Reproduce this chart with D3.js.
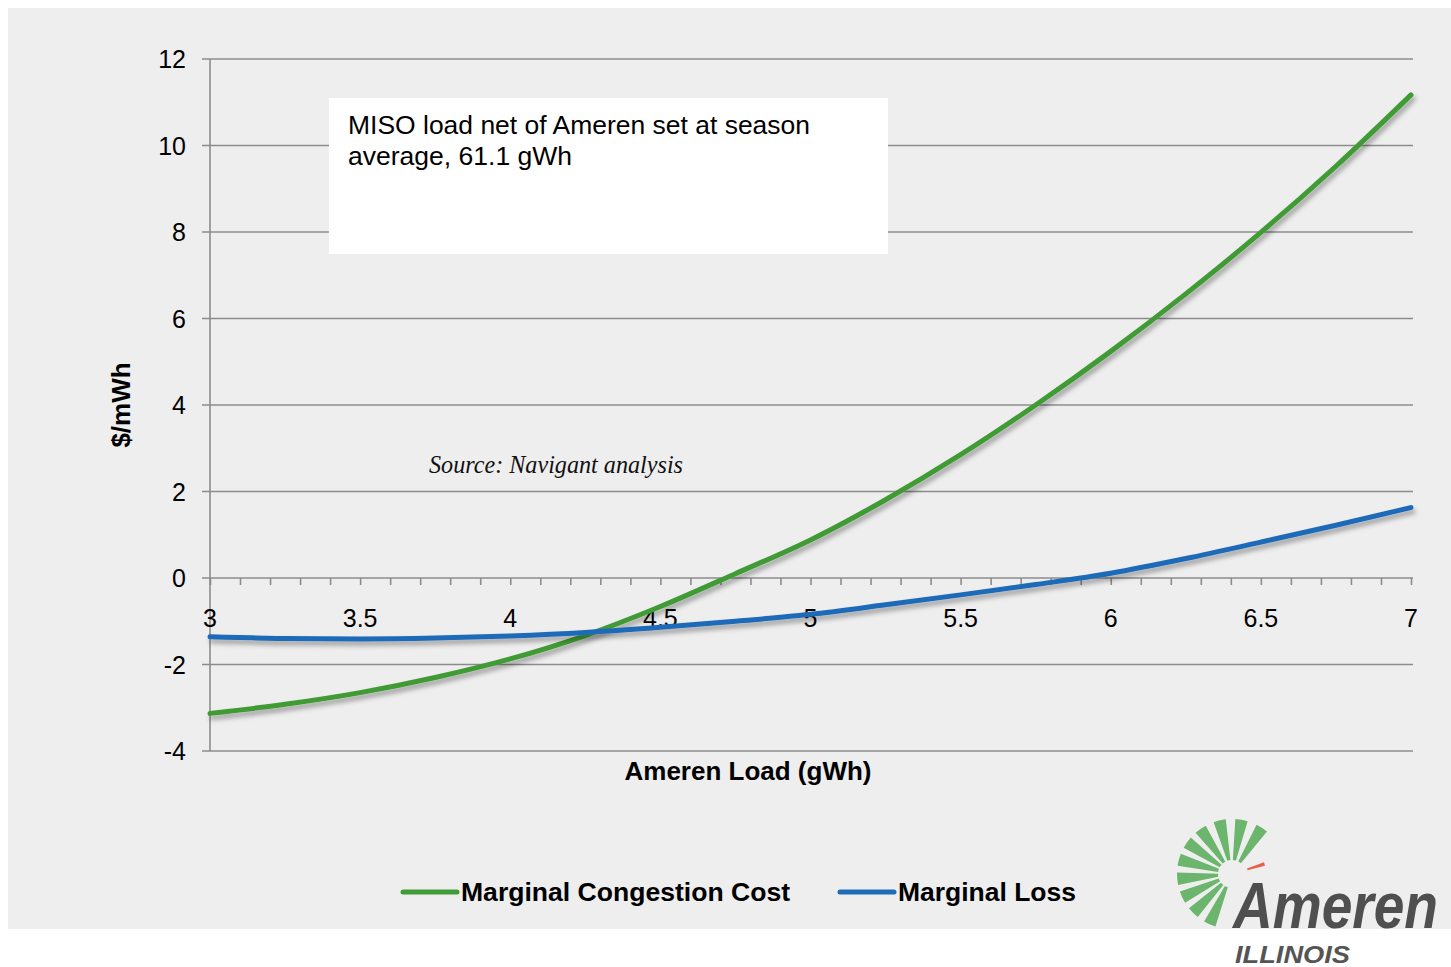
<!DOCTYPE html>
<html>
<head>
<meta charset="utf-8">
<script src="https://cdn.jsdelivr.net/npm/d3@7"></script>
<style>
  html, body { margin: 0; padding: 0; background: #ffffff; }
  svg { display: block; font-family: "Liberation Sans", Arial, sans-serif; }
</style>
</head>
<body>
<svg id="chart" width="1451" height="967"></svg>
<script>
// Ameren load (gWh) on the horizontal axis
const loadGWh = [3, 3.25, 3.5, 3.75, 4, 4.25, 4.5, 4.75, 5, 5.25, 5.5, 5.75, 6, 6.25, 6.5, 6.75, 7];
// $/mWh values for each series
const congestionCost = [-3.13, -2.92, -2.65, -2.30, -1.87, -1.33, -0.66, 0.10, 0.88, 1.81, 2.85, 4.00, 5.24, 6.57, 7.99, 9.52, 11.17];
const marginalLoss = [-1.36, -1.40, -1.41, -1.39, -1.34, -1.26, -1.14, -1.00, -0.84, -0.62, -0.39, -0.15, 0.11, 0.45, 0.83, 1.22, 1.63];
const seriesNames = ["Marginal Congestion Cost", "Marginal Loss"];
const seriesColors = ["#419b36", "#1e6bb8"];
// axis ticks and labels
const yTickValues = [-4, -2, 0, 2, 4, 6, 8, 10, 12];
const xTickLabels = [3, 3.5, 4, 4.5, 5, 5.5, 6, 6.5, 7];
const xTitle = "Ameren Load (gWh)";
const yTitle = "$/mWh";
const noteLines = ["MISO load net of Ameren set at season", "average, 61.1 gWh"];
const sourceNote = "Source: Navigant analysis";

const svg = d3.select("#chart");

const defs = svg.append("defs");
const shadow = defs.append("filter").attr("id", "lineShadow")
  .attr("x", "-5%").attr("y", "-10%").attr("width", "115%").attr("height", "140%");
shadow.append("feDropShadow")
  .attr("dx", 2).attr("dy", 4).attr("stdDeviation", 2.5)
  .attr("flood-color", "#000").attr("flood-opacity", 0.35);

// panel background
svg.append("rect").attr("x", 8).attr("y", 8).attr("width", 1443).attr("height", 921).attr("fill", "#eeeeee");

const x = d3.scaleLinear().domain([3, 7]).range([210, 1411]);
const y = d3.scaleLinear().domain([-4, 12]).range([751, 59]);

// horizontal gridlines (with short outer ticks on the left)
svg.append("g").selectAll("line").data(yTickValues).join("line")
  .attr("x1", 202).attr("x2", x(7) + 2)
  .attr("y1", d => y(d)).attr("y2", d => y(d))
  .attr("stroke", "#8c8c8c").attr("stroke-width", 1.6);

// vertical axis line
svg.append("line").attr("x1", x(3)).attr("x2", x(3)).attr("y1", y(12)).attr("y2", y(-4))
  .attr("stroke", "#8c8c8c").attr("stroke-width", 1.6);

// y tick labels
svg.append("g").selectAll("text").data(yTickValues).join("text")
  .attr("x", 186).attr("y", d => y(d)).attr("dy", "0.36em")
  .attr("text-anchor", "end").attr("font-size", 25).attr("fill", "#000")
  .text(d => d);

// minor ticks along the zero line
const minorAxis = d3.axisBottom(x).ticks(40).tickSize(7).tickFormat("");
const gMinor = svg.append("g").attr("transform", `translate(0,${y(0)})`).call(minorAxis);
gMinor.select(".domain").remove();
gMinor.selectAll(".tick line").attr("stroke", "#8c8c8c").attr("stroke-width", 1.6);

// x tick labels
svg.append("g").selectAll("text").data(xTickLabels).join("text")
  .attr("x", d => x(d)).attr("y", 627)
  .attr("text-anchor", "middle").attr("font-size", 25).attr("fill", "#000")
  .text(d => d);

// axis titles
svg.append("text").attr("x", 748).attr("y", 780).attr("text-anchor", "middle")
  .attr("font-size", 26).attr("font-weight", "bold").attr("fill", "#000").text(xTitle);
svg.append("text").attr("transform", "translate(130,405) rotate(-90)").attr("text-anchor", "middle")
  .attr("font-size", 26).attr("font-weight", "bold").attr("fill", "#000").text(yTitle);

// annotation box
const noteWidths = [462, 224];
svg.append("rect").attr("x", 329).attr("y", 98).attr("width", 559).attr("height", 156).attr("fill", "#ffffff");
svg.append("g").selectAll("text").data(noteLines).join("text")
  .attr("x", 348).attr("y", (d, i) => 134 + i * 31)
  .attr("textLength", (d, i) => noteWidths[i]).attr("lengthAdjust", "spacingAndGlyphs")
  .attr("font-size", 26).attr("fill", "#000").text(d => d);

// source note
svg.append("text").attr("x", 429).attr("y", 473)
  .attr("font-family", "'Liberation Serif', 'DejaVu Serif', serif").attr("font-style", "italic")
  .attr("font-size", 25).attr("textLength", 254).attr("lengthAdjust", "spacingAndGlyphs")
  .attr("fill", "#111").text(sourceNote);

// series lines
const seriesValues = [congestionCost, marginalLoss];
const line = d3.line().x(d => x(d[0])).y(d => y(d[1])).curve(d3.curveMonotoneX);
svg.append("g").selectAll("path").data(seriesValues).join("path")
  .attr("d", vals => line(loadGWh.map((l, i) => [l, vals[i]])))
  .attr("fill", "none")
  .attr("stroke", (d, i) => seriesColors[i])
  .attr("stroke-width", 5)
  .attr("stroke-linecap", "round")
  .attr("filter", "url(#lineShadow)");

// legend
const legendX = [403, 840];
const legendWidths = [329, 178];
const legend = svg.append("g").selectAll("g").data(seriesNames).join("g")
  .attr("transform", (d, i) => `translate(${legendX[i]},892)`);
legend.append("line").attr("x1", 0).attr("x2", 54).attr("y1", 0).attr("y2", 0)
  .attr("stroke", (d, i) => seriesColors[i]).attr("stroke-width", 5).attr("stroke-linecap", "round");
legend.append("text").attr("x", 58).attr("y", 0).attr("dy", "0.35em")
  .attr("textLength", (d, i) => legendWidths[i]).attr("lengthAdjust", "spacingAndGlyphs")
  .attr("font-size", 26).attr("font-weight", "bold").attr("fill", "#000").text(d => d);

// Ameren Illinois logo
const logo = svg.append("g").attr("transform", "translate(1232,874)");
const rayAngles = [33, 10, -13, -35, -55, -75, -95, -115, -135, -156];
const arc = d3.arc();
const rad = Math.PI / 180;
logo.selectAll("path.ray").data(rayAngles).join("path").attr("class", "ray")
  .attr("d", a => arc({ innerRadius: 14, outerRadius: 55, startAngle: (a - 6.5) * rad, endAngle: (a + 6.5) * rad }))
  .attr("fill", "#6cb56c");
logo.append("path")
  .attr("d", arc({ innerRadius: 16, outerRadius: 34, startAngle: 70 * rad, endAngle: 76 * rad }))
  .attr("fill", "#e8624a");
svg.append("text").attr("x", 1233).attr("y", 928)
  .attr("font-size", 64).attr("font-weight", "bold").attr("font-style", "italic")
  .attr("textLength", 205).attr("lengthAdjust", "spacingAndGlyphs")
  .attr("fill", "#4f4f4f").text("Ameren");
svg.append("text").attr("x", 1235).attr("y", 963)
  .attr("font-size", 24).attr("font-weight", "bold").attr("font-style", "italic")
  .attr("textLength", 115).attr("lengthAdjust", "spacingAndGlyphs")
  .attr("fill", "#555555").text("ILLINOIS");
</script>
</body>
</html>
